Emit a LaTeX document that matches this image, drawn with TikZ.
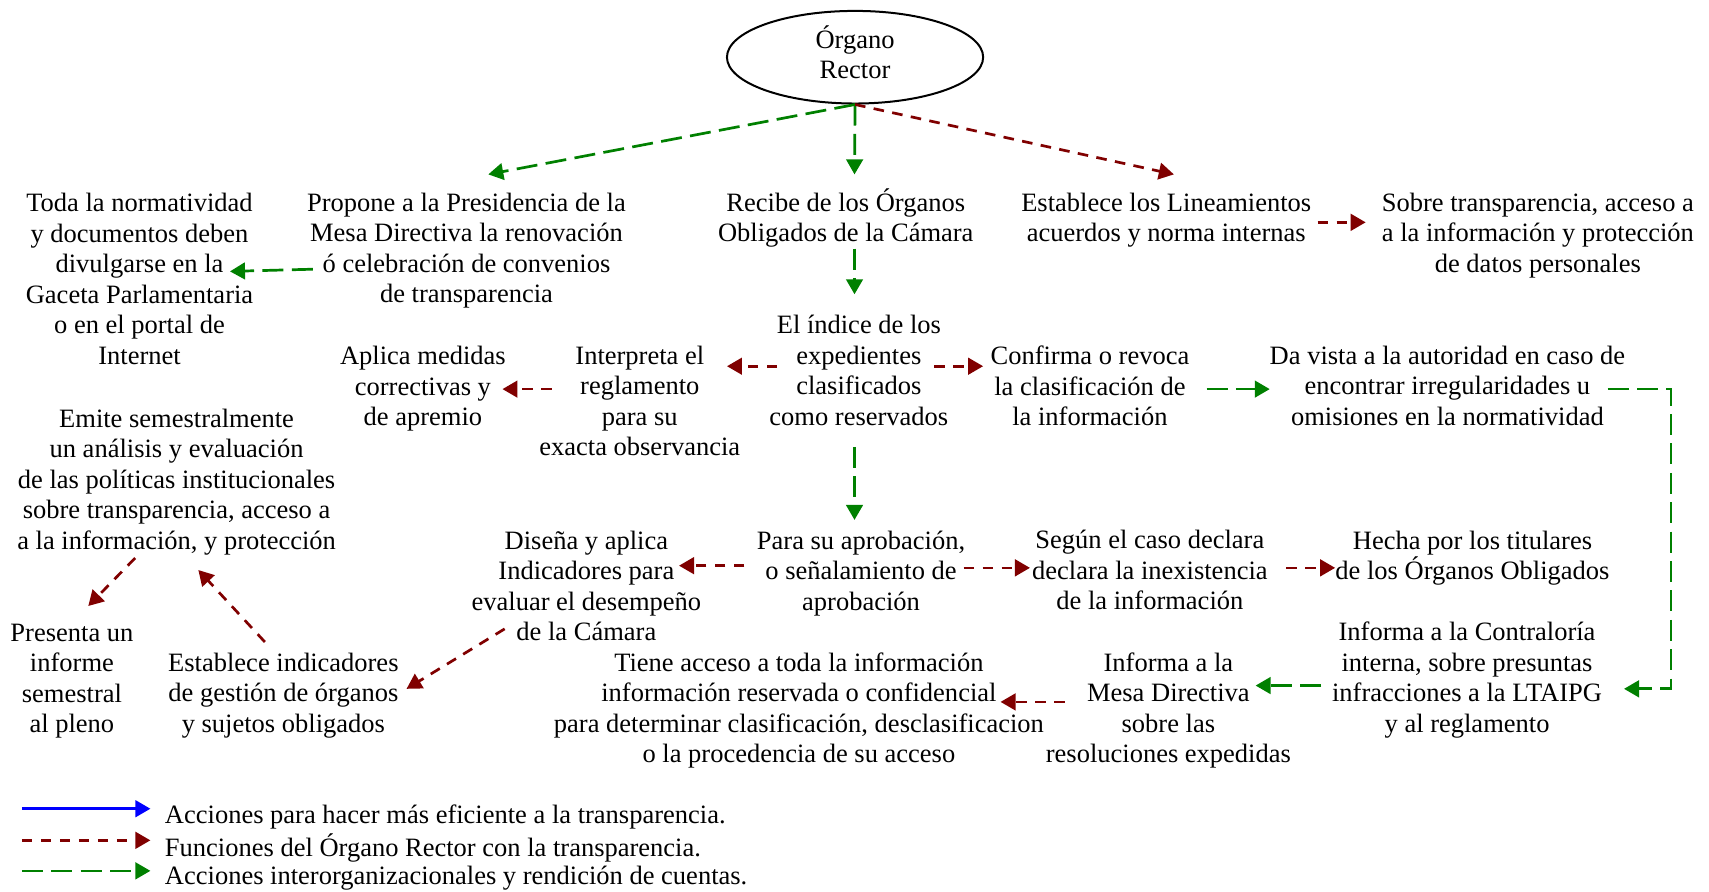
\documentclass[tikz,border=0pt]{standalone}
\usepackage{fontspec}
\setmainfont{Liberation Serif}
\usetikzlibrary{arrows.meta,shapes.geometric}
\definecolor{rdark}{RGB}{128,0,0}
\definecolor{gdark}{RGB}{0,128,0}
\definecolor{bblue}{RGB}{0,0,255}
\begin{document}
\begin{tikzpicture}[x=0.54496pt,y=-0.54496pt,
  txt/.style={align=center,inner sep=0pt,font=\fontsize{13.25}{15.26}\selectfont},
  tip/.style={-{Triangle[length=7.5pt,width=8.3pt]}},
  gr/.style={tip,draw=gdark,line width=1.35pt,dash pattern=on 10.5pt off 4.2pt},
  rd/.style={tip,draw=rdark,line width=1.35pt,dash pattern=on 5.3pt off 4.2pt},
  bl/.style={tip,draw=bblue,line width=1.35pt}]
\useasboundingbox (0,0) rectangle (1568,818.4);

% central oval
\node[draw,ellipse,line width=1pt,minimum width=128.1pt,minimum height=46.3pt,inner sep=0pt] (ell) at (784.5,52.5) {};
\node[txt] (elltxt) at (784.5,48) {Órgano\\Rector};

% first row
\node[txt] (prop) at (428,230) {Propone a la Presidencia de la\\Mesa Directiva la renovación\\ó celebración de convenios\\de transparencia};
\node[txt] (recibe) at (776,200) {Recibe de los Órganos\\Obligados de la Cámara};
\node[txt] (estab) at (1070,202) {Establece los Lineamientos\\acuerdos y norma internas};
\node[txt] (sobre) at (1411,216) {Sobre transparencia, acceso a\\a la información y protección\\de datos personales};
\node[txt] (toda) at (128,256) {Toda la normatividad\\y documentos deben\\divulgarse en la\\Gaceta Parlamentaria\\o en el portal de\\Internet};

% second row
\node[txt] (indice) at (788,340) {El índice de los\\expedientes\\clasificados\\como reservados};
\node[txt] (interp) at (587,368) {Interpreta el\\reglamento\\para su\\exacta observancia};
\node[txt] (aplica) at (388,357) {Aplica medidas\\correctivas y\\de apremio};
\node[txt] (confirma) at (1000,354) {Confirma o revoca\\la clasificación de\\la información};
\node[txt] (davista) at (1328,354) {Da vista a la autoridad en caso de\\encontrar irregularidades u\\omisiones en la normatividad};
\node[txt] (emite) at (162,442) {Emite semestralmente\\un análisis y evaluación\\de las políticas institucionales\\sobre transparencia, acceso a\\a la información, y protección};

% third row
\node[txt] (disena) at (538,537.5) {Diseña y aplica\\Indicadores para\\evaluar el desempeño\\de la Cámara};
\node[txt] (para) at (790,526) {Para su aprobación,\\o señalamiento de\\aprobación};
\node[txt] (segun) at (1055,523) {Según el caso declara\\declara la inexistencia\\de la información};
\node[txt] (hecha) at (1351,512) {Hecha por los titulares\\de los Órganos Obligados};

% bottom row
\node[txt] (presenta) at (66,625) {Presenta un\\informe\\semestral\\al pleno};
\node[txt] (estind) at (260,638) {Establece indicadores\\de gestión de órganos\\y sujetos obligados};
\node[txt] (tiene) at (733,652) {Tiene acceso a toda la información\\información reservada o confidencial\\para determinar clasificación, desclasificacion\\o la procedencia de su acceso};
\node[txt] (mesa) at (1072,652) {Informa a la\\Mesa Directiva\\sobre las\\resoluciones expedidas};
\node[txt] (contra) at (1346,624) {Informa a la Contraloría\\interna, sobre presuntas\\infracciones a la LTAIPG\\y al reglamento};

% connectors from the oval
\draw[gr] (ell.south) -- ([shift={(20,-70)}]prop.center);
\draw[gr] (ell.south) -- ([shift={(8,-40)}]recibe.center);
\draw[rd] (ell.south) -- ([shift={(7,-42)}]estab.center);

% connectors between statements
\draw[gr] ([shift={(8,28)}]recibe.center) -- ([shift={(-4,-70)}]indice.center);
\draw[gr] ([shift={(-141,17)}]prop.center) -- ([shift={(83,-7)}]toda.center);
\draw[rd] ([shift={(139,2)}]estab.center) -- ([shift={(-158,-12)}]sobre.center);
\draw[rd] ([shift={(-75,-4)}]indice.center) -- ([shift={(80,-32)}]interp.center);
\draw[rd] ([shift={(69,-4)}]indice.center) -- ([shift={(-98,-18)}]confirma.center);
\draw[rd] ([shift={(-81,-11)}]interp.center) -- ([shift={(73,0)}]aplica.center);
\draw[gr] ([shift={(107,3)}]confirma.center) -- ([shift={(-163,3)}]davista.center);
\draw[gr] ([shift={(147,3)}]davista.center) -- ++(58,0) |- ([shift={(144,8)}]contra.center);
\draw[gr] ([shift={(-4,70)}]indice.center) -- ([shift={(-6,-49)}]para.center);
\draw[rd] ([shift={(-107,-7)}]para.center) -- ([shift={(85,-18.5)}]disena.center);
\draw[rd] ([shift={(94,-5)}]para.center) -- ([shift={(-110,-2)}]segun.center);
\draw[rd] ([shift={(125,-2)}]segun.center) -- ([shift={(-126,9)}]hecha.center);
\draw[rd] ([shift={(-38,70)}]emite.center) -- ([shift={(15,-69)}]presenta.center);
\draw[rd] ([shift={(-17,-49)}]estind.center) -- ([shift={(20,81)}]emite.center);
\draw[rd] ([shift={(-75,39.5)}]disena.center) -- ([shift={(113,-6)}]estind.center);
\draw[gr] ([shift={(-134,5)}]contra.center) -- ([shift={(80,-23)}]mesa.center);
\draw[rd] ([shift={(-95,-8)}]mesa.center) -- ([shift={(185,-8)}]tiene.center);

% legend
\node[txt,anchor=west] (leg1) at (151,750) {Acciones para hacer más eficiente a la transparencia.};
\node[txt,anchor=west] (leg2) at (151,778) {Funciones del Órgano Rector con la transparencia.};
\node[txt,anchor=west] (leg3) at (151,806) {Acciones interorganizacionales y rendición de cuentas.};
\coordinate (ls1) at (20,742);
\coordinate (ls2) at (20,771);
\coordinate (ls3) at (20,799);
\draw[bl] (ls1) -- ([shift={(-13,-8)}]leg1.west);
\draw[rd] (ls2) -- ([shift={(-13,-7)}]leg2.west);
\draw[gr] (ls3) -- ([shift={(-13,-7)}]leg3.west);
\end{tikzpicture}
\end{document}
